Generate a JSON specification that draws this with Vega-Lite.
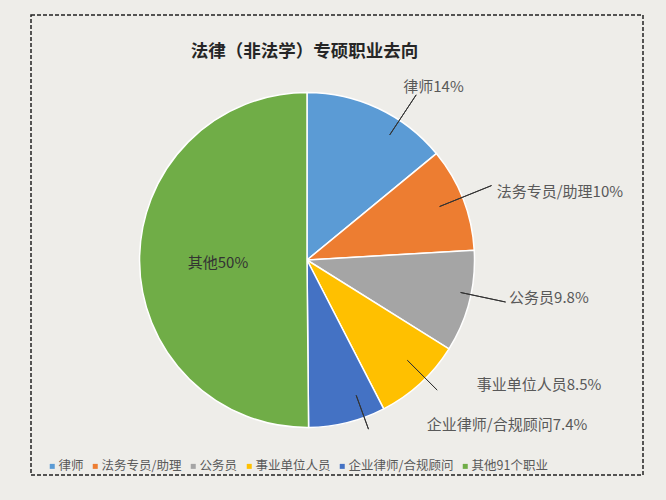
{
  "$schema": "https://vega.github.io/schema/vega-lite/v6.json",
  "width": 602,
  "height": 455,
  "autosize": "none",
  "padding": {"left": 31, "top": 20, "right": 33, "bottom": 25},
  "background": "#eeede9",
  "config": {"view": {"fill": "white", "stroke": null}},
  "title": {
    "text": "法律（非法学）专硕职业去向",
    "font": "Noto Sans CJK SC",
    "fontSize": 17.5,
    "fontWeight": "bold",
    "color": "#262626",
    "anchor": "middle",
    "frame": "group",
    "offset": -46,
    "dx": -27.5
  },
  "data": {
    "values": [
      {"idx": 1, "category": "律师", "label": "律师14%", "value": 14},
      {"idx": 2, "category": "法务专员/助理", "label": "法务专员/助理10%", "value": 10},
      {"idx": 3, "category": "公务员", "label": "公务员9.8%", "value": 9.8},
      {"idx": 4, "category": "事业单位人员", "label": "事业单位人员8.5%", "value": 8.5},
      {"idx": 5, "category": "企业律师/合规顾问", "label": "企业律师/合规顾问7.4%", "value": 7.4},
      {"idx": 6, "category": "其他91个职业", "label": "其他50%", "value": 50}
    ]
  },
  "layer": [
    {
      "data": {"values": [{}]},
      "mark": {"type": "rect", "fill": "transparent", "stroke": "#222222", "strokeWidth": 1.5, "strokeDash": [4, 2], "xOffset": 10, "x2Offset": -11, "yOffset": -5, "y2Offset": 9},
      "encoding": {}
    },
    {
      "mark": {"type": "arc", "outerRadius": 167.5, "stroke": "white", "strokeWidth": 1.5, "xOffset": -25, "yOffset": 12.5},
      "encoding": {
        "theta": {"field": "value", "type": "quantitative", "stack": true},
        "order": {"field": "idx", "type": "quantitative"},
        "color": {
          "field": "category",
          "type": "nominal",
          "scale": {
            "domain": ["律师", "法务专员/助理", "公务员", "事业单位人员", "企业律师/合规顾问", "其他91个职业"],
            "range": ["#5B9BD5", "#ED7D31", "#A5A5A5", "#FFC000", "#4472C4", "#70AD47"]
          },
          "legend": {
            "orient": "none",
            "legendX": 15,
            "legendY": 440,
            "direction": "horizontal",
            "columns": 6,
            "title": null,
            "symbolType": "square",
            "symbolSize": 25,
            "symbolStrokeWidth": 0,
            "labelFont": "Noto Sans CJK SC",
            "labelFontSize": 12.5,
            "labelColor": "#595959",
            "labelOffset": 0,
            "columnPadding": 5,
            "padding": 0,
            "labelLimit": 0
          }
        }
      }
    },
    {
      "mark": {"type": "arc", "innerRadius": 150, "outerRadius": 198, "padAngle": 3, "fill": "transparent", "stroke": "#333333", "strokeWidth": 1, "xOffset": -25, "yOffset": 12.5, "thetaOffset": 0.143, "theta2Offset": 0.143},
      "encoding": {
        "theta": {"field": "value", "type": "quantitative", "stack": true},
        "order": {"field": "idx", "type": "quantitative"},
        "detail": {"field": "category"},
        "strokeOpacity": {"condition": {"test": "datum.category === '律师'", "value": 1}, "value": 0}
      }
    },
    {
      "mark": {"type": "arc", "innerRadius": 143, "outerRadius": 199, "padAngle": 3, "fill": "transparent", "stroke": "#333333", "strokeWidth": 1, "xOffset": -25, "yOffset": 12.5, "thetaOffset": -0.01, "theta2Offset": -0.01},
      "encoding": {
        "theta": {"field": "value", "type": "quantitative", "stack": true},
        "order": {"field": "idx", "type": "quantitative"},
        "detail": {"field": "category"},
        "strokeOpacity": {"condition": {"test": "datum.category === '法务专员/助理'", "value": 1}, "value": 0}
      }
    },
    {
      "mark": {"type": "arc", "innerRadius": 157, "outerRadius": 203, "padAngle": 3, "fill": "transparent", "stroke": "#333333", "strokeWidth": 1, "xOffset": -25, "yOffset": 12.5, "thetaOffset": -0.042, "theta2Offset": -0.042},
      "encoding": {
        "theta": {"field": "value", "type": "quantitative", "stack": true},
        "order": {"field": "idx", "type": "quantitative"},
        "detail": {"field": "category"},
        "strokeOpacity": {"condition": {"test": "datum.category === '公务员'", "value": 1}, "value": 0}
      }
    },
    {
      "mark": {"type": "arc", "innerRadius": 142, "outerRadius": 184, "padAngle": 3, "fill": "transparent", "stroke": "#333333", "strokeWidth": 1, "xOffset": -25, "yOffset": 12.5, "thetaOffset": -0.042, "theta2Offset": -0.042},
      "encoding": {
        "theta": {"field": "value", "type": "quantitative", "stack": true},
        "order": {"field": "idx", "type": "quantitative"},
        "detail": {"field": "category"},
        "strokeOpacity": {"condition": {"test": "datum.category === '事业单位人员'", "value": 1}, "value": 0}
      }
    },
    {
      "mark": {"type": "arc", "innerRadius": 144, "outerRadius": 180, "padAngle": 3, "fill": "transparent", "stroke": "#333333", "strokeWidth": 1, "xOffset": -25, "yOffset": 12.5, "thetaOffset": -0.106, "theta2Offset": -0.106},
      "encoding": {
        "theta": {"field": "value", "type": "quantitative", "stack": true},
        "order": {"field": "idx", "type": "quantitative"},
        "detail": {"field": "category"},
        "strokeOpacity": {"condition": {"test": "datum.category === '企业律师/合规顾问'", "value": 1}, "value": 0}
      }
    },
    {
      "mark": {"type": "text", "radius": 200, "align": "left", "baseline": "middle", "font": "Noto Sans CJK SC", "fontSize": 15, "fill": "#595959", "xOffset": -25, "yOffset": 12.5, "dx": 10.9, "dy": 8},
      "encoding": {
        "theta": {"field": "value", "type": "quantitative", "stack": true},
        "order": {"field": "idx", "type": "quantitative"},
        "detail": {"field": "category"},
        "text": {"condition": {"test": "datum.category === '律师'", "field": "label", "type": "nominal"}, "value": ""}
      }
    },
    {
      "mark": {"type": "text", "radius": 200, "align": "left", "baseline": "middle", "font": "Noto Sans CJK SC", "fontSize": 15, "fill": "#595959", "xOffset": -25, "yOffset": 12.5, "dx": 3.5, "dy": 5},
      "encoding": {
        "theta": {"field": "value", "type": "quantitative", "stack": true},
        "order": {"field": "idx", "type": "quantitative"},
        "detail": {"field": "category"},
        "text": {"condition": {"test": "datum.category === '法务专员/助理'", "field": "label", "type": "nominal"}, "value": ""}
      }
    },
    {
      "mark": {"type": "text", "radius": 200, "align": "left", "baseline": "middle", "font": "Noto Sans CJK SC", "fontSize": 15, "fill": "#595959", "xOffset": -25, "yOffset": 12.5, "dx": 8.3, "dy": -11.8},
      "encoding": {
        "theta": {"field": "value", "type": "quantitative", "stack": true},
        "order": {"field": "idx", "type": "quantitative"},
        "detail": {"field": "category"},
        "text": {"condition": {"test": "datum.category === '公务员'", "field": "label", "type": "nominal"}, "value": ""}
      }
    },
    {
      "mark": {"type": "text", "radius": 200, "align": "left", "baseline": "middle", "font": "Noto Sans CJK SC", "fontSize": 15, "fill": "#595959", "xOffset": -25, "yOffset": 12.5, "dx": 34.3, "dy": -22.7},
      "encoding": {
        "theta": {"field": "value", "type": "quantitative", "stack": true},
        "order": {"field": "idx", "type": "quantitative"},
        "detail": {"field": "category"},
        "text": {"condition": {"test": "datum.category === '事业单位人员'", "field": "label", "type": "nominal"}, "value": ""}
      }
    },
    {
      "mark": {"type": "text", "radius": 200, "align": "left", "baseline": "middle", "font": "Noto Sans CJK SC", "fontSize": 15, "fill": "#595959", "xOffset": -25, "yOffset": 12.5, "dx": 71.7, "dy": -29.6},
      "encoding": {
        "theta": {"field": "value", "type": "quantitative", "stack": true},
        "order": {"field": "idx", "type": "quantitative"},
        "detail": {"field": "category"},
        "text": {"condition": {"test": "datum.category === '企业律师/合规顾问'", "field": "label", "type": "nominal"}, "value": ""}
      }
    },
    {
      "mark": {"type": "text", "radius": 89, "align": "center", "baseline": "middle", "font": "Noto Sans CJK SC", "fontSize": 15, "fill": "#333333", "xOffset": -25, "yOffset": 12.5, "dx": 0, "dy": 2.2},
      "encoding": {
        "theta": {"field": "value", "type": "quantitative", "stack": true},
        "order": {"field": "idx", "type": "quantitative"},
        "detail": {"field": "category"},
        "text": {"condition": {"test": "datum.category === '其他91个职业'", "field": "label", "type": "nominal"}, "value": ""}
      }
    }
  ]
}
